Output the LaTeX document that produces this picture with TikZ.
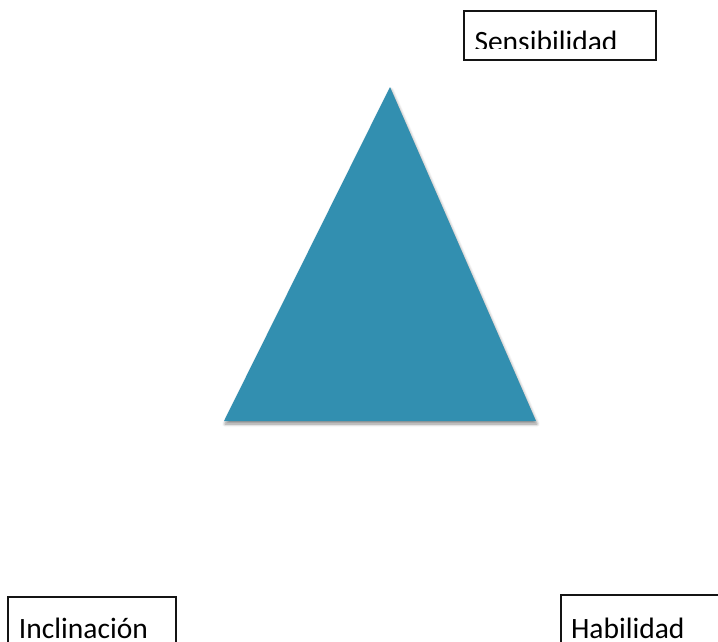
\documentclass[tikz,border=0pt]{standalone}
\usepackage{fontspec}
\setmainfont{Carlito}
\usetikzlibrary{shadows.blur}
\definecolor{tri}{RGB}{50,143,176}
\definecolor{boxline}{RGB}{20,20,20}
\tikzset{
  lbl/.style={anchor=base west, inner sep=0pt, outer sep=0pt, text=black,
    font=\fontsize{29.5}{35}\selectfont},
  framebox/.style={draw=boxline, line width=1.1pt},
}
\begin{document}
\begin{tikzpicture}[x=1pt,y=-1pt]
\useasboundingbox (0,0) rectangle (718,641);
\clip (0,0) rectangle (718,641);
% triangle with soft shadow
\fill[tri, blur shadow={shadow xshift=1pt, shadow yshift=-3pt, shadow opacity=45, shadow blur steps=6, shadow blur radius=3pt}]
  (390,87) -- (536,421) -- (224,421) -- cycle;
% boxes
\draw[framebox] (464,11) rectangle (656,60);
\draw[framebox] (8,597) rectangle (176,660);
\draw[framebox] (561,595) rectangle (740,660);
% clipped labels
\begin{scope}
  \clip (465,12) rectangle (655,48.5);
  \node[lbl] (sens) at (474.5,51) {Sensibilidad};
\end{scope}
\node[lbl] (incl) at (19,638) {Inclinación};
\node[lbl] (hab) at (571,638) {Habilidad};
\end{tikzpicture}
\end{document}
